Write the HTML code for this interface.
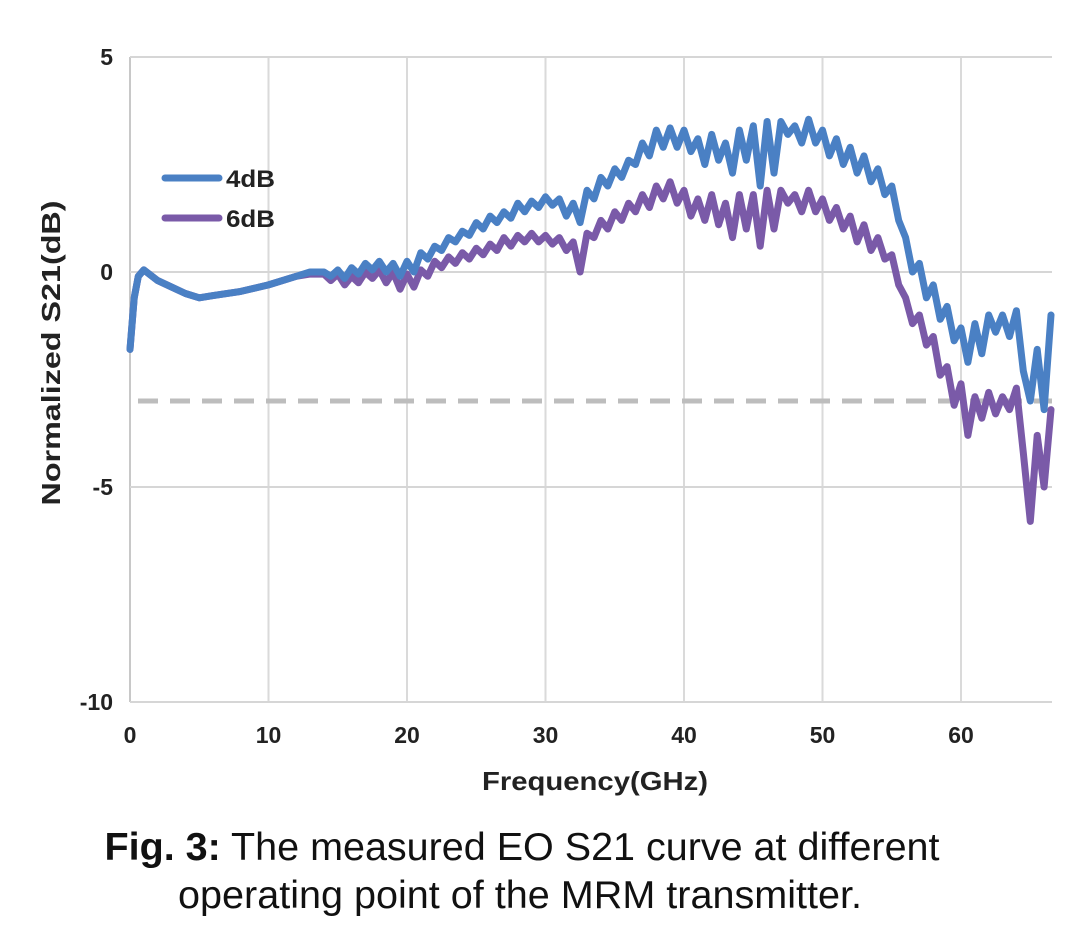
<!DOCTYPE html>
<html><head><meta charset="utf-8"><style>
body{margin:0;background:#fff;width:1080px;height:935px;overflow:hidden;font-family:"Liberation Sans",sans-serif}
</style></head><body>
<svg width="1080" height="935">
<g id="grid"></g>
<g id="ticks" font-weight="bold" font-size="23" fill="#222"></g>
<line id="ref" stroke="#bdbdbd" stroke-width="5" stroke-dasharray="20 12"/>
<g id="series"></g>
<g>
<line x1="165" y1="178" x2="219" y2="178" stroke="#4a80c4" stroke-width="7" stroke-linecap="round"/>
<text x="226" y="187" font-size="24" font-weight="bold" fill="#222" textLength="49" lengthAdjust="spacingAndGlyphs">4dB</text>
<line x1="165" y1="218" x2="219" y2="218" stroke="#7a5aa8" stroke-width="7" stroke-linecap="round"/>
<text x="226" y="227" font-size="24" font-weight="bold" fill="#222" textLength="49" lengthAdjust="spacingAndGlyphs">6dB</text>
</g>
<text transform="translate(60,353) rotate(-90)" text-anchor="middle" font-size="26" font-weight="bold" fill="#222" textLength="305" lengthAdjust="spacingAndGlyphs">Normalized S21(dB)</text>
<text x="595" y="790" text-anchor="middle" font-size="26" font-weight="bold" fill="#222" textLength="226" lengthAdjust="spacingAndGlyphs">Frequency(GHz)</text>
<text x="522" y="860" text-anchor="middle" font-size="39" fill="#111" textLength="835" lengthAdjust="spacingAndGlyphs"><tspan font-weight="bold">Fig. 3:</tspan> The measured EO S21 curve at different</text>
<text x="520" y="908" text-anchor="middle" font-size="39" fill="#111" textLength="684" lengthAdjust="spacingAndGlyphs">operating point of the MRM transmitter.</text>
</svg>
<script>
const xTicks=[0,10,20,30,40,50,60];
const yTicks=[5,0,-5,-10];
const refLevel=-3;
const freq=[0,0.3,0.6,1,2,3,4,5,6,8,10,12,13,14,14.5,15,15.5,16,16.5,17,17.5,18,18.5,19,19.5,20,20.5,21,21.5,22,22.5,23,23.5,24,24.5,25,25.5,26,26.5,27,27.5,28,28.5,29,29.5,30,30.5,31,31.5,32,32.5,33,33.5,34,34.5,35,35.5,36,36.5,37,37.5,38,38.5,39,39.5,40,40.5,41,41.5,42,42.5,43,43.5,44,44.5,45,45.5,46,46.5,47,47.5,48,48.5,49,49.5,50,50.5,51,51.5,52,52.5,53,53.5,54,54.5,55,55.5,56,56.5,57,57.5,58,58.5,59,59.5,60,60.5,61,61.5,62,62.5,63,63.5,64,64.5,65,65.5,66,66.5];
const s4dB=[-1.8,-0.6,-0.1,0.05,-0.2,-0.35,-0.5,-0.6,-0.55,-0.45,-0.3,-0.1,0.0,0.0,-0.1,0.05,-0.15,0.1,-0.05,0.2,0.05,0.25,0.0,0.2,-0.1,0.25,0.0,0.45,0.3,0.6,0.5,0.8,0.7,0.95,0.85,1.15,1.0,1.3,1.15,1.4,1.25,1.6,1.4,1.65,1.5,1.75,1.55,1.7,1.3,1.6,1.15,1.9,1.7,2.2,2.0,2.4,2.2,2.6,2.5,3.0,2.7,3.3,2.9,3.35,2.9,3.3,2.8,3.1,2.5,3.2,2.6,3.0,2.3,3.3,2.6,3.4,2.0,3.5,2.3,3.5,3.2,3.4,3.0,3.55,3.0,3.3,2.7,3.1,2.5,2.9,2.3,2.7,2.1,2.4,1.8,2.0,1.2,0.8,0.0,0.2,-0.6,-0.3,-1.1,-0.8,-1.6,-1.3,-2.1,-1.2,-1.9,-1.0,-1.4,-1.0,-1.5,-0.9,-2.3,-3.0,-1.8,-3.2,-1.0];
const s6dB=[-1.8,-0.6,-0.1,0.05,-0.2,-0.35,-0.5,-0.6,-0.55,-0.45,-0.3,-0.1,-0.05,-0.05,-0.2,-0.05,-0.3,-0.1,-0.25,0.0,-0.15,0.05,-0.25,0.0,-0.4,-0.05,-0.35,0.05,-0.1,0.25,0.1,0.35,0.2,0.45,0.3,0.55,0.4,0.65,0.5,0.8,0.6,0.85,0.7,0.9,0.7,0.85,0.65,0.8,0.5,0.7,0.0,0.9,0.8,1.2,1.0,1.4,1.2,1.6,1.4,1.8,1.5,2.0,1.7,2.1,1.6,1.9,1.3,1.7,1.2,1.8,1.1,1.6,0.8,1.8,1.0,1.8,0.6,1.9,1.0,1.9,1.6,1.8,1.4,1.9,1.4,1.7,1.2,1.5,1.0,1.3,0.7,1.1,0.5,0.8,0.3,0.4,-0.3,-0.6,-1.2,-1.0,-1.7,-1.5,-2.4,-2.2,-3.1,-2.6,-3.8,-2.9,-3.4,-2.8,-3.3,-2.9,-3.2,-2.7,-4.2,-5.8,-3.8,-5.0,-3.2];
const X0=130,PX=13.85,Y0=272,PY=43,XR=1052;
const xs=v=>X0+v*PX, ys=v=>Y0-v*PY;
const NS='http://www.w3.org/2000/svg';
function mk(t,a,p){const e=document.createElementNS(NS,t);for(const k in a)e.setAttribute(k,a[k]);p.appendChild(e);return e;}
const grid=document.getElementById('grid'),ticks=document.getElementById('ticks');
xTicks.forEach(v=>{
 const l=mk('line',{x1:xs(v),x2:xs(v),y1:ys(5),y2:ys(-10),stroke:v===0?'#c8c8c8':'#dadada','stroke-width':2},grid);
 
 
 const t=mk('text',{x:xs(v),y:743,'text-anchor':'middle'},ticks);t.textContent=v;
 
 
});
yTicks.forEach(v=>{
 const l=mk('line',{x1:X0,x2:XR,y1:ys(v),y2:ys(v),stroke:'#d6d6d6','stroke-width':2},grid);
 
 
 const t=mk('text',{x:113,y:ys(v)+8,'text-anchor':'end'},ticks);t.textContent=v;
 
 
});
const r=document.getElementById('ref');
r.setAttribute('x1',X0+8);r.setAttribute('x2',XR);r.setAttribute('y1',ys(refLevel));r.setAttribute('y2',ys(refLevel));
const sg=document.getElementById('series');
[[s4dB,'#4a80c4','series-4db'],[s6dB,'#7a5aa8','series-6db']].slice().reverse().forEach(([d,c,n])=>{
 const p=mk('path',{d:d.map((v,i)=>(i?'L':'M')+xs(freq[i]).toFixed(1)+','+ys(v).toFixed(1)).join(''),fill:'none',stroke:c,'stroke-width':7,'stroke-linejoin':'round','stroke-linecap':'round'},sg);
 
 
});
</script>
</body></html>
